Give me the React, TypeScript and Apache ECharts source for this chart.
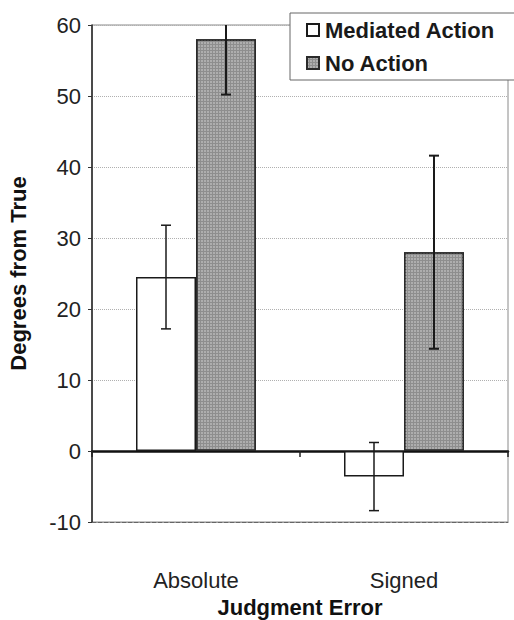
import React, { useEffect, useRef } from "react";
import * as echarts from "echarts";

const categories = ["Absolute", "Signed"];
const mediatedValues = [24.5, -3.6];
const mediatedErrors = [7.3, 4.8];
const noActionValues = [58.0, 28.0];
const noActionErrors = [7.8, 13.6];
const yTicks = [-10, 0, 10, 20, 30, 40, 50, 60];

const FONT = "'Liberation Sans', Arial, Helvetica, sans-serif";

export default function App() {
  const ref = useRef<HTMLDivElement>(null);
  useEffect(() => {
    if (!ref.current) return;
    const chart = echarts.init(ref.current, null, { renderer: "svg" });
    const errSeries = (name: string, vals: number[], errs: number[], offset: number, lw: number) => ({
      type: "custom",
      name: name + " err",
      xAxisIndex: 0,
      yAxisIndex: 0,
      clip: true,
      silent: true,
      z: 5,
      data: vals.map((v, i) => [i, v, errs[i]]),
      encode: { x: 0, y: 1 },
      renderItem: (params: any, api: any) => {
        const idx = api.value(0);
        const v = api.value(1);
        const e = api.value(2);
        const top = api.coord([idx, v + e]);
        const bot = api.coord([idx, v - e]);
        const x = top[0] + offset;
        const cap = 5;
        const style = { stroke: "#1a1a1a", lineWidth: lw };
        return {
          type: "group",
          children: [
            { type: "line", shape: { x1: x, y1: top[1], x2: x, y2: bot[1] }, style },
            { type: "line", shape: { x1: x - cap, y1: top[1], x2: x + cap, y2: top[1] }, style },
            { type: "line", shape: { x1: x - cap, y1: bot[1], x2: x + cap, y2: bot[1] }, style },
          ],
        };
      },
    });
    chart.setOption({
      animation: false,
      textStyle: { fontFamily: FONT },
      grid: {
        left: 92,
        right: 6,
        top: 25,
        bottom: 98,
        containLabel: false,
        outerBoundsMode: "none",
        show: true,
        borderColor: "#8a8a8a",
        borderWidth: 1,
        backgroundColor: "transparent",
      },
      legend: {
        orient: "vertical",
        left: 290,
        top: 13,
        padding: [6, 40, 6, 16],
        borderColor: "#666",
        borderWidth: 1,
        backgroundColor: "#fff",
        itemWidth: 12,
        itemHeight: 12,
        itemGap: 11,
        icon: "rect",
        data: ["Mediated Action", "No Action"],
        textStyle: { fontFamily: FONT, fontSize: 22, fontWeight: "bold", color: "#1a1a1a", padding: [0, 0, 0, 1] },
        z: 10,
      },
      xAxis: [
        {
          type: "category",
          data: categories,
          position: "bottom",
          axisLine: { onZero: false, lineStyle: { color: "#666", width: 1, type: "dashed" } },
          axisTick: { show: false },
          axisLabel: { margin: 47, fontSize: 22, color: "#222", fontFamily: FONT },
          name: "Judgment Error",
          nameLocation: "middle",
          nameGap: 74,
          nameTextStyle: { fontSize: 22, fontWeight: "bold", color: "#111", fontFamily: FONT },
          splitLine: { show: false },
        },
        {
          type: "category",
          data: categories,
          position: "top",
          axisLine: { onZero: true, lineStyle: { color: "#111", width: 2.5 } },
          axisTick: { show: true, inside: true, length: 6, lineStyle: { color: "#222", width: 1.5 } },
          axisLabel: { show: false },
          splitLine: { show: false },
        },
      ],
      yAxis: [
        {
          type: "value",
          min: yTicks[0],
          max: yTicks[yTicks.length - 1],
          interval: 10,
          axisLine: { show: true, lineStyle: { color: "#222", width: 1.5 } },
          axisTick: { show: true, length: 4, lineStyle: { color: "#333" } },
          axisLabel: { fontSize: 22, color: "#222", margin: 11, fontFamily: FONT },
          splitLine: { show: true, lineStyle: { color: "#b0b0b0", type: "dotted", width: 1 } },
          name: "Degrees from True",
          nameLocation: "middle",
          nameRotate: 90,
          nameGap: 63,
          nameTextStyle: { fontSize: 22, fontWeight: "bold", color: "#111", fontFamily: FONT },
        },
      ],
      series: [
        {
          type: "bar",
          name: "Mediated Action",
          data: mediatedValues,
          barWidth: 60,
          barGap: "0%",
          itemStyle: { color: "#ffffff", borderColor: "#1a1a1a", borderWidth: 1.5 },
        },
        {
          type: "bar",
          name: "No Action",
          data: noActionValues,
          barWidth: 60,
          barGap: "0%",
          itemStyle: {
            color: "#8e8e8e",
            borderColor: "#2a2a2a",
            borderWidth: 1.5,
            decal: {
              symbol: "rect",
              symbolSize: 1,
              dashArrayX: [[2, 1]],
              dashArrayY: [2, 1],
              color: "rgba(200,200,200,0.55)",
              rotation: 0,
            },
          },
        },
        errSeries("Mediated Action", mediatedValues, mediatedErrors, -30, 1.5),
        errSeries("No Action", noActionValues, noActionErrors, 30, 2),
      ],
    });
    return () => chart.dispose();
  }, []);
  return <div ref={ref} style={{ width: 514, height: 620, position: "absolute", left: 0, top: 0 }} />;
}
